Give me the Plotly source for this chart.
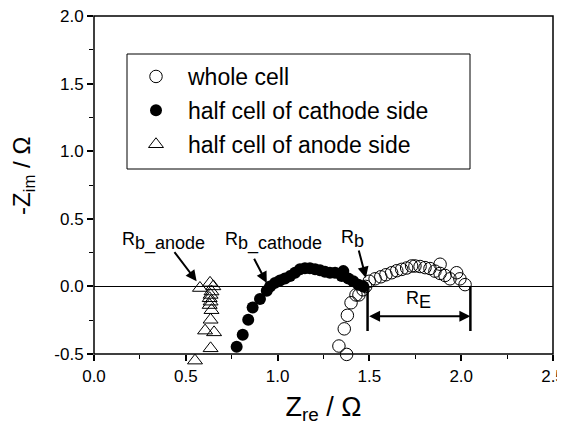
import plotly.graph_objects as go

# whole cell (open circles)
whole_x = [1.376, 1.334, 1.363, 1.380, 1.400, 1.427, 1.443, 1.465, 1.480,
           1.499, 1.531, 1.562, 1.590, 1.621, 1.649, 1.676, 1.703, 1.730, 1.748,
           1.776, 1.803, 1.830, 1.857, 1.885, 1.885, 1.912, 1.939, 1.975, 1.993, 2.021]
whole_y = [-0.503, -0.441, -0.314, -0.214, -0.121, -0.063, -0.063, -0.025, 0.0,
           0.038, 0.056, 0.071, 0.086, 0.101, 0.116, 0.126, 0.136, 0.151, 0.151,
           0.147, 0.139, 0.132, 0.113, 0.164, 0.096, 0.081, 0.056, 0.101, 0.056, 0.013]

# half cell of cathode side (filled circles)
cath_x = [0.777, 0.810, 0.840, 0.864, 0.904, 0.941, 0.959, 0.986, 1.013, 1.040,
          1.068, 1.095, 1.122, 1.149, 1.176, 1.204, 1.231, 1.258, 1.285, 1.313,
          1.358, 1.349, 1.385, 1.412, 1.440, 1.467]
cath_y = [-0.446, -0.358, -0.247, -0.156, -0.093, -0.033, 0.0, 0.026, 0.043, 0.058,
          0.076, 0.101, 0.126, 0.134, 0.134, 0.126, 0.119, 0.109, 0.101, 0.101,
          0.113, 0.076, 0.058, 0.038, 0.013, 0.0]

# half cell of anode side (open triangles)
anode_x = [0.577, 0.632, 0.650, 0.640, 0.635, 0.630, 0.635, 0.630, 0.640,
           0.635, 0.605, 0.654, 0.635, 0.550]
anode_y = [-0.012, 0.026, 0.0, -0.038, -0.063, -0.088, -0.113, -0.138, -0.176,
           -0.247, -0.327, -0.340, -0.458, -0.549]

x_ticks = [0.0, 0.5, 1.0, 1.5, 2.0, 2.5]
y_ticks = [-0.5, 0.0, 0.5, 1.0, 1.5, 2.0]
X_MIN, X_MAX = 0.0, 2.5
Y_MIN, Y_MAX = -0.5, 2.0

FONT = "Liberation Sans, Arial, sans-serif"

# geometry (window pixels); the page body adds an 8px offset
OFF = 8
W, H = 565 - OFF, 428 - OFF
PLOT_L, PLOT_R, PLOT_T, PLOT_B = 94, 553, 16, 354   # frame in window pixels
EXTRA = 20  # room below the frame where markers may overflow
ML = PLOT_L - OFF
MR = 565 - PLOT_R
MT = PLOT_T - OFF
MB = 428 - (PLOT_B + EXTRA)
inner_w = W - ML - MR
inner_h = H - MT - MB
dom0 = EXTRA / inner_h
y_lo = Y_MIN - (Y_MAX - Y_MIN) * EXTRA / (PLOT_B - PLOT_T)


def px_x(p):
    return (p - PLOT_L) / inner_w


def px_y(p):
    return (PLOT_B + EXTRA - p) / inner_h


fig = go.Figure()
fig.add_trace(go.Scatter(x=whole_x, y=whole_y, mode="markers", name="whole cell",
                         legendgroup="a",
                         marker=dict(symbol="circle-open", size=12.5, color="black",
                                     line=dict(width=1, color="black"))))
fig.add_trace(go.Scatter(x=cath_x, y=cath_y, mode="markers",
                         name="half cell of cathode side", legendgroup="b",
                         marker=dict(symbol="circle", size=12, color="black")))
fig.add_trace(go.Scatter(x=anode_x, y=anode_y, mode="markers",
                         name="half cell of anode side", legendgroup="c",
                         marker=dict(symbol="triangle-up-open", size=13, color="black",
                                     line=dict(width=1, color="black"))))

LBL = dict(size=18, color="black", family=FONT)
SUB = "<sub><span style='font-size:18px'>{}</span></sub>"
annotations = [
    dict(x=0.559, y=0.038, ax=0.432, ay=0.265, axref="x", ayref="y", text="",
         showarrow=True, arrowhead=2, arrowsize=1.1, arrowwidth=2, arrowcolor="black"),
    dict(x=0.941, y=0.026, ax=0.868, ay=0.215, axref="x", ayref="y", text="",
         showarrow=True, arrowhead=2, arrowsize=1.1, arrowwidth=2, arrowcolor="black"),
    dict(x=1.481, y=0.063, ax=1.440, ay=0.277, axref="x", ayref="y", text="",
         showarrow=True, arrowhead=2, arrowsize=1.1, arrowwidth=2, arrowcolor="black"),
    dict(x=2.05, y=-0.22, ax=1.49, ay=-0.22, axref="x", ayref="y", text="",
         showarrow=True, arrowhead=2, startarrowhead=2, arrowside="end+start",
         arrowsize=1.1, arrowwidth=2, arrowcolor="black"),
    dict(x=0.378, y=0.33, text="R" + SUB.format("b_anode"), showarrow=False, font=LBL),
    dict(x=0.98, y=0.33, text="R" + SUB.format("b_cathode"), showarrow=False, font=LBL),
    dict(x=1.41, y=0.35, text="R" + SUB.format("b"), showarrow=False, font=LBL),
    dict(x=1.767, y=-0.10, text="R" + SUB.format("E"), showarrow=False, font=LBL),
    # y-axis title
    dict(xref="paper", yref="paper", x=px_x(23), y=px_y(176), text="-Z<sub>im</sub> / Ω",
         textangle=-90, showarrow=False, xanchor="center", yanchor="middle",
         font=dict(size=24, color="black", family=FONT)),
]

shapes = [
    # frame of the plot
    dict(type="rect", xref="paper", yref="paper", x0=0, x1=1, y0=dom0, y1=1,
         line=dict(color="black", width=1.5), fillcolor="rgba(0,0,0,0)", layer="above"),
    dict(type="line", x0=1.49, x1=1.49, y0=0.0, y1=-0.33, xref="x", yref="y",
         line=dict(color="black", width=2.5)),
    dict(type="line", x0=2.05, x1=2.05, y0=0.0, y1=-0.33, xref="x", yref="y",
         line=dict(color="black", width=2.5)),
    # legend frame
    dict(type="rect", xref="paper", yref="paper", x0=px_x(127), x1=px_x(470),
         y0=px_y(169), y1=px_y(54),
         line=dict(color="black", width=1), fillcolor="rgba(0,0,0,0)", layer="above"),
]

axis_common = dict(showgrid=False, showline=False, ticks="outside", ticklen=6,
                   tickwidth=1.5, tickcolor="black", tickfont=dict(size=17),
                   automargin=False, ticklabeloverflow="allow",
                   minor=dict(dtick=0.25, ticks="outside", ticklen=4, tickwidth=1.2,
                              tickcolor="black", showgrid=False))

fig.update_layout(
    width=W, height=H,
    margin=dict(l=ML, r=MR, t=MT, b=MB),
    paper_bgcolor="white", plot_bgcolor="white",
    font=dict(family=FONT, color="black", size=16),
    showlegend=True,
    legend=dict(x=px_x(124), y=px_y(55), xanchor="left", yanchor="top",
                bgcolor="rgba(0,0,0,0)", font=dict(size=23, family=FONT),
                tracegroupgap=1, itemwidth=54),
    annotations=annotations,
    shapes=shapes,
    xaxis=dict(range=[X_MIN, X_MAX], tickvals=x_ticks,
               ticktext=[f"{v:.1f}" for v in x_ticks],
               zeroline=False, anchor="free", position=dom0, ticklabelstandoff=1,
               title=dict(text="Z<sub>re</sub> / Ω", font=dict(size=27), standoff=11),
               **axis_common),
    yaxis=dict(range=[y_lo, Y_MAX], domain=[0, 1], tickvals=y_ticks,
               ticktext=[f"{v:.1f}" for v in y_ticks],
               zeroline=True, zerolinecolor="black", zerolinewidth=1,
               **axis_common),
)

fig.write_html("out.html")
